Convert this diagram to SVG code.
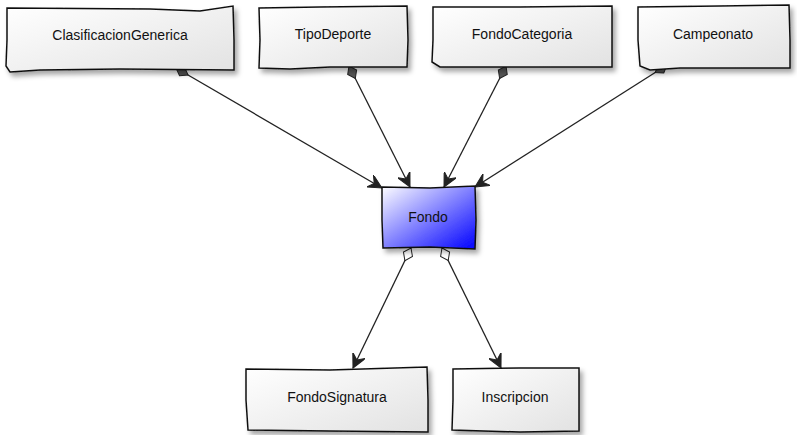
<svg xmlns="http://www.w3.org/2000/svg" width="797" height="435" viewBox="0 0 797 435">
<defs>
<linearGradient id="gGrey" x1="0" y1="0" x2="1" y2="1">
<stop offset="0" stop-color="#ffffff"/><stop offset="1" stop-color="#e2e2e2"/>
</linearGradient>
<linearGradient id="gBlue" x1="0" y1="0" x2="1" y2="1">
<stop offset="0" stop-color="#ffffff"/><stop offset="1" stop-color="#0000ff"/>
</linearGradient>
<filter id="sh" x="-10%" y="-10%" width="130%" height="140%">
<feDropShadow dx="3" dy="4" stdDeviation="2.5" flood-color="#000" flood-opacity="0.35"/>
</filter>
<marker id="arr" markerWidth="16" markerHeight="14" refX="14" refY="7" orient="auto" markerUnits="userSpaceOnUse">
<path d="M14,7 L0,0 L5,7 L0,14 Z" fill="#222" stroke="#222" stroke-width="1"/>
</marker>
<marker id="dia" markerWidth="18" markerHeight="14" refX="1" refY="7" orient="auto" markerUnits="userSpaceOnUse">
<path d="M1,7 L8,2 L15,7 L8,12 Z" fill="#555" stroke="#222" stroke-width="1"/>
</marker>
<marker id="odia" markerWidth="18" markerHeight="14" refX="1" refY="7" orient="auto" markerUnits="userSpaceOnUse">
<path d="M1,7 L8,2 L15,7 L8,12 Z" fill="#fff" stroke="#222" stroke-width="1"/>
</marker>
</defs>
<style>
.box{fill:url(#gGrey);stroke:#111;stroke-width:1.5;filter:url(#sh)}
.blue{fill:url(#gBlue);stroke:#111;stroke-width:1.5;filter:url(#sh)}
.lbl{font-family:"Liberation Sans",Arial,sans-serif;font-size:14px;fill:#111;text-anchor:middle;dominant-baseline:middle}
.c{fill:none;stroke:#222;stroke-width:1.3}
</style>
<rect width="797" height="435" fill="#fff"/>
<g id="connectors">
<line class="c" x1="176" y1="68" x2="382" y2="188" marker-start="url(#dia)" marker-end="url(#arr)"/>
<line class="c" x1="349" y1="66" x2="410" y2="187" marker-start="url(#dia)" marker-end="url(#arr)"/>
<line class="c" x1="506" y1="66" x2="444" y2="187" marker-start="url(#dia)" marker-end="url(#arr)"/>
<line class="c" x1="667" y1="65" x2="475" y2="187" marker-start="url(#dia)" marker-end="url(#arr)"/>
<line class="c" x1="411" y1="248" x2="353" y2="368" marker-start="url(#odia)" marker-end="url(#arr)"/>
<line class="c" x1="442" y1="248" x2="501" y2="368" marker-start="url(#odia)" marker-end="url(#arr)"/>
</g>
<g id="ClasificacionGenerica">
<path class="box" d="M7,8 L150,9 L200,11 L233,6 L234,40 L234,70 L120,69 L40,70 L10,72 L6,66 L7,40 Z"/>
<text class="lbl" x="120" y="36">ClasificacionGenerica</text>
</g>
<g id="TipoDeporte">
<path class="box" d="M259,8 L320,7 L407,6 L408,40 L407,67 L330,67 L290,69 L259,68 L260,40 Z"/>
<text class="lbl" x="333" y="35">TipoDeporte</text>
</g>
<g id="FondoCategoria">
<path class="box" d="M433,7 L520,7 L612,6 L612,40 L612,67 L480,67 L440,67 L432,62 L433,40 Z"/>
<text class="lbl" x="522" y="35">FondoCategoria</text>
</g>
<g id="Campeonato">
<path class="box" d="M638,7 L720,6 L789,5 L790,40 L790,68 L680,68 L650,70 L640,66 L638,40 Z"/>
<text class="lbl" x="713" y="35">Campeonato</text>
</g>
<g id="Fondo">
<path class="blue" d="M382,187 L430,188 L475,186 L476,220 L475,249 L430,247 L383,248 L382,220 Z"/>
<text class="lbl" x="428" y="218">Fondo</text>
</g>
<g id="FondoSignatura">
<path class="box" d="M246,369 L330,370 L427,367 L428,400 L428,432 L330,431 L248,430 L246,400 Z"/>
<text class="lbl" x="337" y="398">FondoSignatura</text>
</g>
<g id="Inscripcion">
<path class="box" d="M453,369 L520,368 L579,368 L579,400 L579,431 L520,432 L452,430 L453,400 Z"/>
<text class="lbl" x="515" y="398">Inscripcion</text>
</g>
</svg>
